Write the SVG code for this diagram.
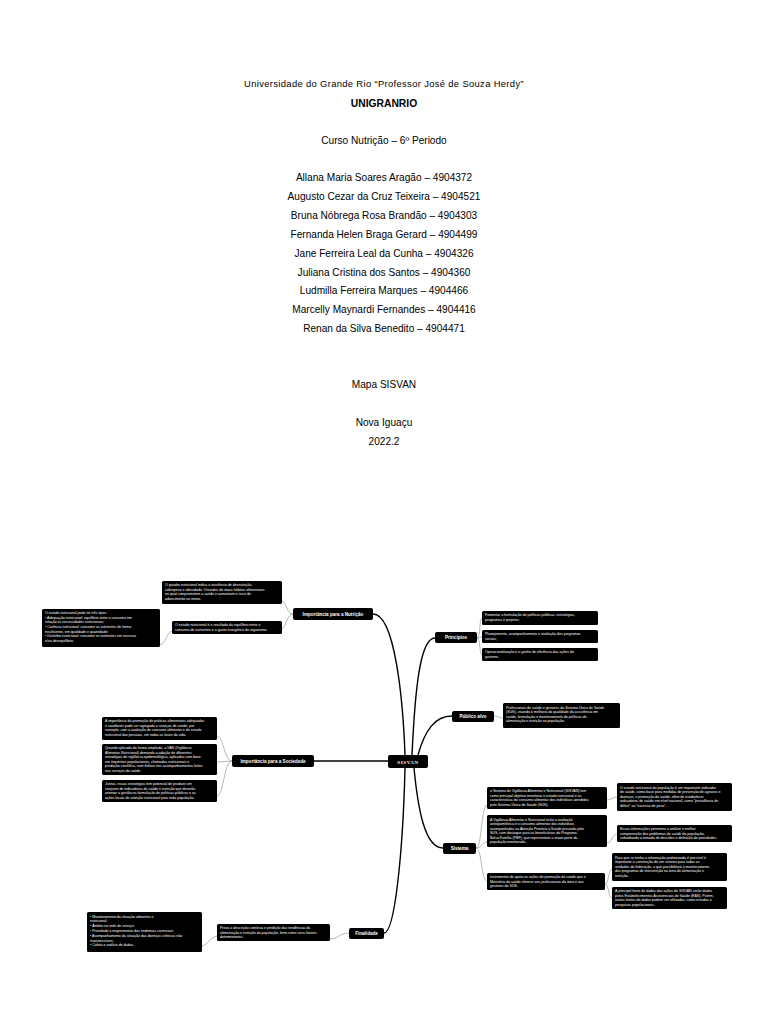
<svg xmlns="http://www.w3.org/2000/svg" width="768" height="1024" viewBox="0 0 768 1024">
<style>
.t{font-family:"Liberation Sans",Arial,sans-serif;fill:#000;text-anchor:middle}
.h{font-size:9.4px;letter-spacing:0.35px}
.b{font-size:10.1px}
.n{fill:#000}
.nt{font-family:"Liberation Sans",Arial,sans-serif;font-weight:bold;font-size:4.6px;fill:#fff;text-anchor:middle}
.bx{fill:#000}
.bt{font-family:"Liberation Sans",Arial,sans-serif;font-size:3.55px;fill:#fff}
.m{fill:none;stroke:#000;stroke-width:1.4}
.s{fill:none;stroke:#888;stroke-width:0.6}
</style>
<rect width="768" height="1024" fill="#fff"/>
<g id="header">
<text class="t h" x="384" y="87">Universidade do Grande Rio “Professor José de Souza Herdy”</text>
<text class="t" x="384" y="107" font-size="10.3" font-weight="bold">UNIGRANRIO</text>
<text class="t b" x="384" y="144">Curso Nutrição – 6º Periodo</text>
<text class="t b" x="384" y="181">Allana Maria Soares Aragão – 4904372</text>
<text class="t b" x="384" y="200">Augusto Cezar da Cruz Teixeira – 4904521</text>
<text class="t b" x="384" y="219">Bruna Nóbrega Rosa Brandão – 4904303</text>
<text class="t b" x="384" y="238">Fernanda Helen Braga Gerard – 4904499</text>
<text class="t b" x="384" y="257">Jane Ferreira Leal da Cunha – 4904326</text>
<text class="t b" x="384" y="276">Juliana Cristina dos Santos – 4904360</text>
<text class="t b" x="384" y="294">Ludmilla Ferreira Marques – 4904466</text>
<text class="t b" x="384" y="313">Marcelly Maynardi Fernandes – 4904416</text>
<text class="t b" x="384" y="332">Renan da Silva Benedito – 4904471</text>
<text class="t b" x="384" y="388">Mapa SISVAN</text>
<text class="t b" x="384" y="426">Nova Iguaçu</text>
<text class="t b" x="384" y="445">2022.2</text>
</g>
<g id="connectors">
<path class="m" d="M373,614 C395,614 403,700 405,755"/>
<path class="m" d="M412,755 C415,690 420,638 435,638"/>
<path class="m" d="M418,755 C425,730 435,716 452,716"/>
<path class="m" d="M314,761 L388,761"/>
<path class="m" d="M414,768 C418,810 425,848 443,848"/>
<path class="m" d="M405,768 C403,850 395,933 384,933"/>
<path class="s" d="M293,614 C287,614 286,602 282,601"/>
<path class="s" d="M293,614 C287,614 286,627 282,629"/>
<path class="s" d="M172,631 C166,633 166,644 160,645"/>
<path class="s" d="M477,638 C481,638 479,618 482,618"/>
<path class="s" d="M477,638 L482,637"/>
<path class="s" d="M477,638 C481,638 479,655 482,655"/>
<path class="s" d="M494,716 C498,716 499,718 503,718"/>
<path class="s" d="M232,761 C224,761 224,737 217,736"/>
<path class="s" d="M232,761 L217,762"/>
<path class="s" d="M232,761 C224,761 224,795 217,796"/>
<path class="s" d="M476,848 C482,848 481,806 487,805"/>
<path class="s" d="M476,848 C482,848 481,843 487,842"/>
<path class="s" d="M476,848 C482,848 481,880 487,881"/>
<path class="s" d="M607,800 C612,800 612,797 617,797"/>
<path class="s" d="M607,843 C612,843 612,834 617,834"/>
<path class="s" d="M605,884 C609,884 608,870 612,869"/>
<path class="s" d="M605,884 C609,884 608,898 612,898"/>
<path class="s" d="M349,933 C340,933 338,939 330,939"/>
<path class="s" d="M217,936 C210,937 208,945 202,946"/>
</g>
<g id="sisvan">
<rect class="n" x="388" y="755" width="40" height="13" rx="2"/>
<text x="408" y="763.5" font-family="Liberation Serif,serif" font-weight="bold" font-size="5" letter-spacing="0.6" fill="#fff" text-anchor="middle">SISVAN</text>
</g>
<g id="nutricao">
<rect class="n" x="293" y="608" width="80" height="12" rx="2"/>
<text class="nt" x="333" y="615.8">Importância para a Nutrição</text>
</g>
<g id="nutricao-1">
<rect class="bx" x="162" y="581" width="120" height="23" rx="1.5"/>
<text class="bt" x="165" y="586"><tspan x="165">O quadro nutricional indica a existência de desnutrição,</tspan><tspan x="165" dy="4.5">sobrepeso e obesidade. Oriundos de maus hábitos alimentares</tspan><tspan x="165" dy="4.5">no qual comprometem a saúde e aumentam o risco de</tspan><tspan x="165" dy="4.5">adoecimento ou morte.</tspan></text>
</g>
<g id="nutricao-2">
<rect class="bx" x="172" y="621" width="110" height="13" rx="1.5"/>
<text class="bt" x="175" y="626.3"><tspan x="175">O estado nutricional é o resultado do equilíbrio entre o</tspan><tspan x="175" dy="4.5">consumo de nutrientes e o gasto energético do organismo.</tspan></text>
</g>
<g id="nutricao-3">
<rect class="bx" x="42" y="609" width="118" height="38" rx="1.5"/>
<text class="bt" x="45" y="614.2"><tspan x="45">O estado nutricional pode ter três tipos:</tspan><tspan x="45" dy="4.6">• Adequação nutricional: equilíbrio entre o consumo em</tspan><tspan x="45" dy="4.6">relação às necessidades nutricionais;</tspan><tspan x="45" dy="4.6">• Carência nutricional: consome os nutrientes de forma</tspan><tspan x="45" dy="4.6">insuficiente, em qualidade e quantidade;</tspan><tspan x="45" dy="4.6">• Distúrbio nutricional: consome os nutrientes em excesso</tspan><tspan x="45" dy="4.6">e/ou desequilíbrio.</tspan></text>
</g>
<g id="principios">
<rect class="n" x="435" y="632" width="42" height="11" rx="2"/>
<text class="nt" x="456" y="639.3">Princípios</text>
</g>
<g id="principios-1">
<rect class="bx" x="482" y="611" width="116" height="14" rx="1.5"/>
<text class="bt" x="485" y="616.3"><tspan x="485">Fomentar a formulação de políticas públicas, estratégias,</tspan><tspan x="485" dy="4.5">programas e projetos;</tspan></text>
</g>
<g id="principios-2">
<rect class="bx" x="482" y="630" width="116" height="13" rx="1.5"/>
<text class="bt" x="485" y="635.3"><tspan x="485">Planejamento, acompanhamento e avaliação dos programas</tspan><tspan x="485" dy="4.5">sociais;</tspan></text>
</g>
<g id="principios-3">
<rect class="bx" x="482" y="648" width="116" height="13" rx="1.5"/>
<text class="bt" x="485" y="653.3"><tspan x="485">Operacionalização e o ganho de eficiência das ações do</tspan><tspan x="485" dy="4.5">governo.</tspan></text>
</g>
<g id="publico">
<rect class="n" x="452" y="711" width="42" height="11" rx="2"/>
<text class="nt" x="473" y="718.3">Público alvo</text>
</g>
<g id="publico-1">
<rect class="bx" x="503" y="703" width="117" height="25" rx="1.5"/>
<text class="bt" x="506" y="708.5"><tspan x="506">Profissionais de saúde e gestores do Sistema Único de Saúde</tspan><tspan x="506" dy="4.5">(SUS), visando à melhoria da qualidade da assistência em</tspan><tspan x="506" dy="4.5">saúde, formulação e monitoramento de políticas de</tspan><tspan x="506" dy="4.5">alimentação e nutrição na população.</tspan></text>
</g>
<g id="sociedade">
<rect class="n" x="232" y="755" width="82" height="12" rx="2"/>
<text class="nt" x="273" y="762.8">Importância para a Sociedade</text>
</g>
<g id="sociedade-1">
<rect class="bx" x="102" y="717" width="115" height="23" rx="1.5"/>
<text class="bt" x="105" y="722.3"><tspan x="105">A importância da promoção de práticas alimentares adequadas</tspan><tspan x="105" dy="4.5">e saudáveis pode ser agregada a serviços de saúde, por</tspan><tspan x="105" dy="4.5">exemplo, com a avaliação do consumo alimentar e do estado</tspan><tspan x="105" dy="4.5">nutricional das pessoas, em todas as fases da vida.</tspan></text>
</g>
<g id="sociedade-2">
<rect class="bx" x="102" y="744" width="115" height="31" rx="1.5"/>
<text class="bt" x="105" y="749.3"><tspan x="105">Quando aplicada de forma ampliada, a VAN (Vigilância</tspan><tspan x="105" dy="4.5">Alimentar Nutricional) demanda a adoção de diferentes</tspan><tspan x="105" dy="4.5">estratégias de vigilância epidemiológica, aplicadas com base</tspan><tspan x="105" dy="4.5">em inquéritos populacionais, chamadas nutricionais e</tspan><tspan x="105" dy="4.5">produção científica, com ênfase nos acompanhamentos feitos</tspan><tspan x="105" dy="4.5">nos serviços de saúde.</tspan></text>
</g>
<g id="sociedade-3">
<rect class="bx" x="102" y="780" width="115" height="22" rx="1.5"/>
<text class="bt" x="105" y="785.3"><tspan x="105">Juntas, essas estratégias tem potencial de produzir um</tspan><tspan x="105" dy="4.5">conjunto de indicadores de saúde e nutrição que deverão</tspan><tspan x="105" dy="4.5">orientar a gestão na formulação de políticas públicas e as</tspan><tspan x="105" dy="4.5">ações locais de atenção nutricional para toda população.</tspan></text>
</g>
<g id="sistema">
<rect class="n" x="443" y="843" width="33" height="11" rx="2"/>
<text class="nt" x="459.5" y="850.3">Sistema</text>
</g>
<g id="sistema-1">
<rect class="bx" x="487" y="787" width="120" height="22" rx="1.5"/>
<text class="bt" x="490" y="792.3"><tspan x="490">o Sistema de Vigilância Alimentar e Nutricional (SISVAN) tem</tspan><tspan x="490" dy="4.5">como principal objetivo monitorar o estado nutricional e as</tspan><tspan x="490" dy="4.5">características do consumo alimentar dos indivíduos atendidos</tspan><tspan x="490" dy="4.5">pelo Sistema Único de Saúde (SUS).</tspan></text>
</g>
<g id="sistema-2">
<rect class="bx" x="487" y="815" width="120" height="32" rx="1.5"/>
<text class="bt" x="490" y="820.5"><tspan x="490">A Vigilância Alimentar e Nutricional inclui a avaliação</tspan><tspan x="490" dy="4.5">antropométrica e o consumo alimentar dos indivíduos</tspan><tspan x="490" dy="4.5">acompanhados na Atenção Primária à Saúde prestada pelo</tspan><tspan x="490" dy="4.5">SUS, com destaque para os beneficiários do Programa</tspan><tspan x="490" dy="4.5">Bolsa Família (PBF), que representam a maior parte da</tspan><tspan x="490" dy="4.5">população monitorada.</tspan></text>
</g>
<g id="sistema-3">
<rect class="bx" x="487" y="873" width="118" height="17" rx="1.5"/>
<text class="bt" x="490" y="878.3"><tspan x="490">Instrumento de apoio as ações de promoção da saúde que o</tspan><tspan x="490" dy="4.5">Ministério da saúde oferece aos profissionais da área e aos</tspan><tspan x="490" dy="4.5">gestores do SUS.</tspan></text>
</g>
<g id="sistema-1a">
<rect class="bx" x="617" y="783" width="115" height="28" rx="1.5"/>
<text class="bt" x="620" y="788.5"><tspan x="620">O estado nutricional da população é um importante indicador</tspan><tspan x="620" dy="4.6">de saúde, como base para medidas de prevenção de agravos e</tspan><tspan x="620" dy="4.6">doenças, e promoção da saúde, além de estabelecer</tspan><tspan x="620" dy="4.6">indicadores de saúde em nível nacional, como “prevalência de</tspan><tspan x="620" dy="4.6">déficit” ou “excesso de peso”.</tspan></text>
</g>
<g id="sistema-2a">
<rect class="bx" x="617" y="825" width="115" height="17" rx="1.5"/>
<text class="bt" x="620" y="830.3"><tspan x="620">Essas informações permitem a análise e melhor</tspan><tspan x="620" dy="4.5">compreensão dos problemas de saúde da população,</tspan><tspan x="620" dy="4.5">subsidiando a tomada de decisões e definição de prioridades.</tspan></text>
</g>
<g id="sistema-3a">
<rect class="bx" x="612" y="853" width="115" height="28" rx="1.5"/>
<text class="bt" x="615" y="858.5"><tspan x="615">Para que se tenha a informação padronizada é possível é</tspan><tspan x="615" dy="4.6">importante a construção de um sistema para todas as</tspan><tspan x="615" dy="4.6">unidades da federação, o que possibilitará o monitoramento</tspan><tspan x="615" dy="4.6">dos programas de intervenção na área de alimentação e</tspan><tspan x="615" dy="4.6">nutrição.</tspan></text>
</g>
<g id="sistema-3b">
<rect class="bx" x="612" y="887" width="115" height="22" rx="1.5"/>
<text class="bt" x="615" y="892.3"><tspan x="615">A principal fonte de dados das ações do SISVAN serão dadas</tspan><tspan x="615" dy="4.5">pelos Estabelecimentos Assistenciais de Saúde (EAS). Porém,</tspan><tspan x="615" dy="4.5">outras fontes de dados podem ser utilizadas, como estudos e</tspan><tspan x="615" dy="4.5">pesquisas populacionais.</tspan></text>
</g>
<g id="finalidade">
<rect class="n" x="349" y="928" width="35" height="11" rx="2"/>
<text class="nt" x="366.5" y="935.3">Finalidade</text>
</g>
<g id="finalidade-1">
<rect class="bx" x="217" y="924" width="113" height="17" rx="1.5"/>
<text class="bt" x="220" y="929.3"><tspan x="220">Preza a descrição contínua e predição das tendências da</tspan><tspan x="220" dy="4.5">alimentação e nutrição da população, bem como seus fatores</tspan><tspan x="220" dy="4.5">determinantes.</tspan></text>
</g>
<g id="finalidade-2">
<rect class="bx" x="87" y="912" width="115" height="40" rx="1.5"/>
<text class="bt" x="90" y="917.5"><tspan x="90">• Monitoramento da situação alimentar e</tspan><tspan x="90" dy="4.8">nutricional;</tspan><tspan x="90" dy="4.8">• Âmbito na rede de serviço;</tspan><tspan x="90" dy="4.8">• Prioridade e mapeamento das endemias carenciais;</tspan><tspan x="90" dy="4.8">• Acompanhamento da situação das doenças crônicas não</tspan><tspan x="90" dy="4.8">transmissíveis;</tspan><tspan x="90" dy="4.8">• Coleta e análise de dados.</tspan></text>
</g>
</svg>
